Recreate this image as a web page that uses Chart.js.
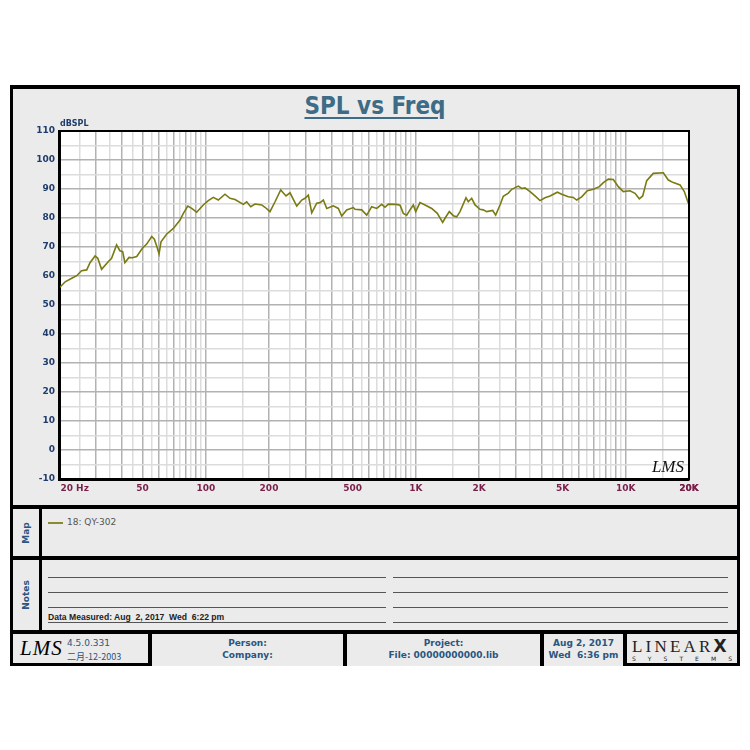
<!DOCTYPE html>
<html>
<head>
<meta charset="utf-8">
<script src="https://cdn.jsdelivr.net/npm/chart.js@4.4.1/dist/chart.umd.min.js"></script>
<style>
  body { margin: 0; width: 750px; height: 750px; background: #fff; position: relative; font-family: "DejaVu Sans", Verdana, sans-serif; }
  .abs { position: absolute; }
  .panel { position: absolute; background: #ebebeb; }
  .blue { color: #2a5580; font-weight: bold; font-size: 9px; }
  .vlabel { position: absolute; left: 50%; top: 50%; transform: translate(-50%, -50%) rotate(-90deg); font-size: 9px; font-weight: bold; color: #2a5580; white-space: nowrap; }
  .nline { position: absolute; height: 1px; background: #555; }
  .cell { position: absolute; top: 634px; height: 29px; background: #ebebeb; }
  .center { text-align: center; line-height: 12px; padding-top: 3px; }
</style>
</head>
<body>
<div class="abs" style="left:10px;top:85px;width:730px;height:581px;background:#000"></div>

<!-- chart panel -->
<div class="panel" style="left:13px;top:89px;width:724px;height:416px"></div>
<div class="abs" style="left:0;top:92px;width:750px;text-align:center;font-size:24px;font-weight:bold;color:#3e6b85;font-family:'DejaVu Sans Condensed','DejaVu Sans',sans-serif;text-decoration:underline;text-decoration-thickness:2px;text-underline-offset:3px">SPL vs Freq</div>
<canvas id="spl" class="abs" style="left:12px;top:110px" width="700" height="390"></canvas>

<!-- map panel -->
<div class="panel" style="left:13px;top:509px;width:26px;height:47px"><div class="vlabel">Map</div></div>
<div class="panel" style="left:42px;top:509px;width:695px;height:47px">
  <div class="abs" style="left:6px;top:13px;width:15px;height:2px;background:#8a8a30"></div>
  <div class="abs" style="left:25px;top:8px;font-size:9px;color:#555">18: QY-302</div>
</div>

<!-- notes panel -->
<div class="panel" style="left:13px;top:560px;width:26px;height:70px"><div class="vlabel">Notes</div></div>
<div class="panel" style="left:42px;top:560px;width:695px;height:70px">
  <div class="nline" style="left:6px;width:338px;top:17px"></div>
  <div class="nline" style="left:6px;width:338px;top:32px"></div>
  <div class="nline" style="left:6px;width:338px;top:47px"></div>
  <div class="nline" style="left:6px;width:338px;top:62px"></div>
  <div class="nline" style="left:351px;width:335px;top:17px"></div>
  <div class="nline" style="left:351px;width:335px;top:32px"></div>
  <div class="nline" style="left:351px;width:335px;top:47px"></div>
  <div class="nline" style="left:351px;width:335px;top:62px"></div>
  <div class="abs" style="left:6px;top:52px;font-size:8.6px;color:#222;font-weight:bold;white-space:pre;font-family:'Liberation Sans',Arial,sans-serif">Data Measured: Aug  2, 2017  Wed  6:22 pm</div>
</div>

<!-- footer -->
<div class="cell" style="left:13px;width:135px">
  <div class="abs" style="left:7px;top:2px;font-size:21px;font-style:italic;font-family:'Liberation Serif',serif;letter-spacing:1px">LMS</div>
  <div class="abs blue" style="left:54px;top:4px;font-weight:normal;color:#2a5580">4.5.0.331</div>
  <div class="abs blue" style="left:54px;top:16px;font-weight:normal;color:#2a5580;font-family:'Noto Sans CJK SC','DejaVu Sans',sans-serif">二月-12-2003</div>
</div>
<div class="cell blue center" style="left:152px;width:191px">Person:<br>Company:</div>
<div class="cell blue center" style="left:347px;width:193px">Project:<br>File: 00000000000.lib</div>
<div class="cell blue center" style="left:544px;width:79px;white-space:pre">Aug 2, 2017<br>Wed  6:36 pm</div>
<div class="cell" style="left:627px;width:110px">
  <div class="abs" style="left:5px;top:2px;font-family:'Liberation Serif',serif;font-size:17px;letter-spacing:3.2px;color:#222">LINEAR<b style="font-family:'DejaVu Sans',sans-serif;font-size:17px;letter-spacing:0">X</b></div>
  <div class="abs" style="left:5px;top:21px;width:100px;font-size:6px;color:#222;display:flex;justify-content:space-between"><span>S</span><span>Y</span><span>S</span><span>T</span><span>E</span><span>M</span><span>S</span></div>
</div>

<script>
const freqs = [20.2, 21.4, 23.0, 24.3, 25.6, 27.1, 28.1, 29.7, 30.6, 31.9, 34.3, 35.6, 37.6, 39.0, 40.2, 41.2, 43.1, 44.7, 46.9, 49.8,
  52.3, 55.3, 56.9, 58.4, 59.9, 61.2, 65.2, 70.1, 75.4, 78.2, 82.1, 85.7, 90.5, 97.3, 102.8, 108.6, 114.7, 123.4, 130.4, 137.8,
  150.9, 156.6, 163.7, 171.5, 184.6, 191.5, 202.2, 213.7, 227.4, 241.0, 251.8, 271.1, 286.4, 296.9, 307.9, 319.6, 337.6, 350.1, 363.0, 376.8,
  404.9, 427.6, 443.8, 468.8, 504.0, 513.5, 552.6, 583.8, 616.7, 651.8, 688.6, 713.9, 740.2, 811.4, 841.3, 872.3, 905.4, 938.8, 973.3, 999.4,
  1047, 1107, 1191, 1266, 1343, 1378, 1444, 1509, 1566, 1624, 1734, 1778, 1846, 1915, 2022, 2096, 2176, 2324, 2401, 2518,
  2611, 2759, 2864, 3079, 3196, 3311, 3500, 3697, 3905, 4125, 4358, 4721, 4953, 5325, 5625, 5839, 6168, 6557, 7006, 7482,
  7817, 8258, 8723, 9214, 9733, 10471, 11066, 11597, 12037, 12580, 13521, 15088, 15942, 16843, 18130, 18998, 19848];
const spl = [56.1, 58.0, 59.2, 60.1, 61.8, 62.1, 64.6, 66.9, 66.1, 62.3, 64.9, 66.1, 70.7, 68.7, 68.4, 64.6, 66.4, 66.3, 66.7, 69.5,
  71.0, 73.6, 72.7, 70.3, 67.6, 71.8, 74.5, 76.4, 79.3, 81.6, 84.1, 83.3, 82.0, 84.5, 86.0, 87.1, 86.2, 88.2, 86.8, 86.4,
  84.7, 85.6, 83.9, 84.8, 84.5, 83.7, 82.2, 85.6, 89.7, 87.6, 88.7, 84.1, 86.2, 86.8, 87.9, 81.8, 85.1, 85.3, 86.2, 83.3,
  84.2, 83.3, 80.7, 82.8, 83.6, 83.0, 82.8, 81.0, 83.9, 83.3, 84.7, 83.7, 84.8, 84.7, 84.4, 81.6, 81.0, 82.8, 84.5, 82.2,
  85.3, 84.5, 83.3, 81.6, 78.5, 79.9, 82.2, 80.8, 80.4, 82.2, 87.0, 85.6, 86.8, 84.5, 83.0, 82.8, 82.2, 82.6, 81.0, 84.5,
  87.5, 88.6, 89.9, 91.0, 90.2, 90.4, 89.1, 87.6, 86.0, 87.0, 87.6, 88.9, 88.2, 87.3, 87.1, 86.2, 87.3, 89.4, 89.9, 90.8,
  92.2, 93.4, 93.3, 90.8, 89.1, 89.4, 88.5, 86.6, 87.6, 92.9, 95.4, 95.6, 93.1, 92.2, 91.4, 89.1, 85.1];

const xLabelValues = [20, 50, 100, 200, 500, 1000, 2000, 5000, 10000, 20000];
const xLabels = ['          20 Hz', '50', '100', '200', '500', '1K', '2K', '5K', '10K', '20K'];
const yMin = -10, yMax = 110;
const seriesName = '18: QY-302';

// grid: dark lines at 1..9 per decade, light ones halfway between
const xGrid = [];
[10, 100, 1000, 10000].forEach(d => {
  for (let k = 1; k <= 9; k++) {
    [k * d, (k + 0.5) * d].forEach(v => { if (v >= 20 && v <= 20000) xGrid.push(v); });
  }
});
xGrid.push(20000);

const isMajorX = v => {
  const d = Math.pow(10, Math.floor(Math.log10(v) + 1e-9));
  return Math.abs(v / d - Math.round(v / d)) < 1e-6;
};

const frame = {
  id: 'frame',
  beforeDraw(chart) {
    const { ctx, chartArea: a } = chart;
    ctx.save();
    ctx.fillStyle = '#fff';
    ctx.fillRect(a.left, a.top, a.right - a.left, a.bottom - a.top);
    ctx.restore();
  },
  afterDraw(chart) {
    const { ctx, chartArea: a } = chart;
    ctx.save();
    ctx.strokeStyle = '#000';
    ctx.lineWidth = 2;
    ctx.strokeRect(a.left, a.top, a.right - a.left, a.bottom - a.top);
    ctx.fillStyle = '#1f3c6b';
    ctx.font = 'bold 8px "DejaVu Sans"';
    ctx.textBaseline = 'bottom';
    ctx.fillText('dBSPL', a.left + 1, a.top - 3);
    ctx.fillStyle = '#111';
    ctx.font = 'italic 17px "Liberation Serif"';
    ctx.textAlign = 'right';
    ctx.textBaseline = 'alphabetic';
    ctx.fillText('LMS', a.right - 5, a.bottom - 7);
    ctx.restore();
  }
};

new Chart(document.getElementById('spl'), {
  type: 'line',
  data: {
    datasets: [{
      label: seriesName,
      data: freqs.map((f, i) => ({ x: f, y: spl[i] })),
      borderColor: '#7a7a12',
      borderWidth: 1.6,
      pointRadius: 0,
      tension: 0
    }]
  },
  options: {
    responsive: false,
    devicePixelRatio: 1,
    animation: false,
    layout: { padding: { left: 0, top: 21, right: 23, bottom: 0 } },
    plugins: { legend: { display: false }, tooltip: { enabled: false } },
    scales: {
      x: {
        type: 'logarithmic',
        min: 20,
        max: 20000,
        afterBuildTicks: s => { s.ticks = xGrid.map(v => ({ value: v })); },
        afterFit: s => { s.height = 21; },
        border: { color: '#000', width: 3 },
        grid: {
          drawTicks: false,
          color: c => isMajorX(c.tick.value) ? '#b2b2b2' : '#dcdcdc',
          lineWidth: 1.5
        },
        ticks: {
          autoSkip: false,
          maxRotation: 0,
          padding: 4,
          color: '#7a1f4a',
          font: { family: 'DejaVu Sans', size: 9, weight: 'bold' },
          callback: v => {
            const i = xLabelValues.indexOf(v);
            return i >= 0 ? xLabels[i] : '';
          }
        }
      },
      y: {
        min: yMin,
        max: yMax,
        afterFit: s => { s.width = 47; },
        border: { color: '#000', width: 3 },
        grid: {
          drawTicks: false,
          color: c => c.tick.value % 10 === 0 ? '#b2b2b2' : '#dcdcdc',
          lineWidth: 1.5
        },
        ticks: {
          stepSize: 5,
          padding: 4,
          color: '#1f3c6b',
          font: { family: 'DejaVu Sans', size: 9, weight: 'bold' },
          callback: v => v % 10 === 0 ? String(v) : ''
        }
      }
    }
  },
  plugins: [frame]
});
</script>
</body>
</html>
